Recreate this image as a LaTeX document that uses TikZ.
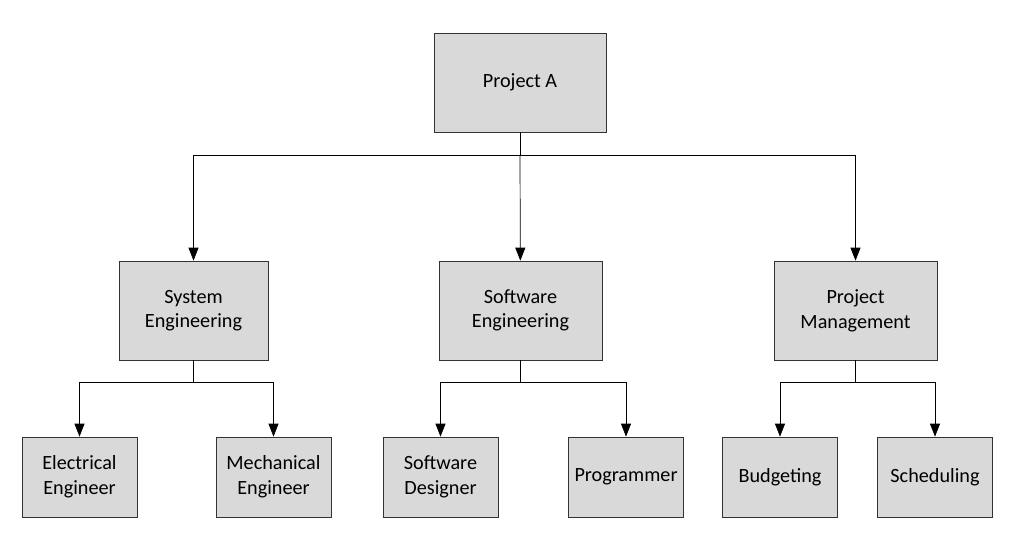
\documentclass[tikz,border=0pt]{standalone}
\usepackage{fontspec}
\setmainfont{Carlito}
\usetikzlibrary{arrows.meta}
\tikzstyle{unit} = [rectangle, draw=black!80, fill=black!15, align=center, font=\fontsize{11.5}{14}\selectfont, inner sep=2pt]
\tikzstyle{arrow} = [draw=black, -{Triangle[length=2.6mm,width=2mm]}]
\begin{document}
\begin{tikzpicture}[x=0.02cm, y=-0.02cm]
        \useasboundingbox (0,0) rectangle (1024,557);
        % Nodes
        \node (project) [unit, minimum width=3.44cm, minimum height=1.98cm] at (520,82.5) {Project A};
        \node (syseng) [unit, minimum width=2.98cm, minimum height=1.98cm] at (193.5,310.5) {System\\Engineering};
        \node (sweng) [unit, minimum width=3.26cm, minimum height=1.98cm] at (520.5,310.5) {Software\\Engineering};
        \node (projman) [unit, minimum width=3.26cm, minimum height=1.98cm] at (855.5,310.5) {Project\\Management};
        \node (electrical) [unit, minimum width=2.3cm, minimum height=1.6cm] at (79.5,477) {Electrical\\Engineer};
        \node (mechanical) [unit, minimum width=2.3cm, minimum height=1.6cm] at (273.5,477) {Mechanical\\Engineer};
        \node (designer) [unit, minimum width=2.3cm, minimum height=1.6cm] at (440.5,477) {Software\\Designer};
        \node (programmer) [unit, minimum width=2.3cm, minimum height=1.6cm] at (626,477) {Programmer};
        \node (budgeting) [unit, minimum width=2.3cm, minimum height=1.6cm] at (780,477) {Budgeting};
        \node (scheduling) [unit, minimum width=2.3cm, minimum height=1.6cm] at (935,477) {Scheduling};
        \coordinate (top_split) at (520,155);
        \coordinate (sys_split) at (193.5,382);
        \coordinate (sw_split) at (520.5,382);
        \coordinate (pm_split) at (855.5,382);

        % Lines
        \draw (project) -- (top_split);
        \draw [arrow] (top_split) -| (syseng);
        \draw [arrow] (top_split) -| (projman);
        \draw [arrow] (top_split) -- (sweng);
        \draw (syseng) -- (sys_split);
        \draw [arrow] (sys_split) -| (electrical);
        \draw [arrow] (sys_split) -| (mechanical);
        \draw (sweng) -- (sw_split);
        \draw [arrow] (sw_split) -| (designer);
        \draw [arrow] (sw_split) -| (programmer);
        \draw (projman) -- (pm_split);
        \draw [arrow] (pm_split) -| (budgeting);
        \draw [arrow] (pm_split) -| (scheduling);
    \end{tikzpicture}
\end{document}
